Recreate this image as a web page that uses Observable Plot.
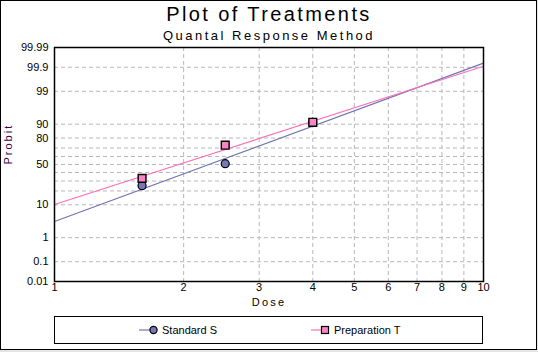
<!DOCTYPE html>
<html>
<head>
<meta charset="utf-8">
<script src="https://cdn.jsdelivr.net/npm/d3@7"></script>
<script src="https://cdn.jsdelivr.net/npm/@observablehq/plot@0.6"></script>
<style>
  html, body { margin: 0; padding: 0; background: #e4e4e4; }
  #wrap { position: relative; width: 538px; height: 352px; overflow: hidden; background: #e4e4e4; }
  #frame { position: absolute; left: 0; top: 0; width: 535px; height: 348px; border: 1px solid #000; border-right-width: 1.5px; border-bottom-width: 1.5px; background: #fff; }
  .t { position: absolute; left: 0; width: 538px; text-align: center; font-family: "Liberation Sans", Arial, sans-serif; color: #000; white-space: nowrap; }
  #title { top: 3px; font-size: 20px; line-height: 22px; letter-spacing: 2.4px; }
  #subtitle { top: 28px; font-size: 13px; line-height: 15px; letter-spacing: 2.5px; }
  #chart { position: absolute; left: 0; top: 40px; }
  #legend { position: absolute; left: 54px; top: 316px; width: 427px; height: 26px; border: 1px solid #000; font-family: "Liberation Sans", Arial, sans-serif; font-size: 11px; }
  .item { position: absolute; top: 0; height: 26px; display: flex; align-items: center; }
  .item svg { display: block; }
  .item span { margin-left: 3px; }
</style>
</head>
<body>
<div id="wrap">
  <div id="frame"></div>
  <div id="title" class="t">Plot of Treatments</div>
  <div id="subtitle" class="t">Quantal Response Method</div>
  <div id="chart"></div>
  <div id="legend"></div>
</div>
<script>
// ---- data (percent responses) ----
const doses = [1.6, 2.5, 4];
const standardS = [25, 51, 91];
const preparationT = [33, 73, 91];
// fitted probit lines, read at dose 1 and dose 10 (percent)
const lineDoses = [1, 10];
const standardLine = [3.5, 99.936];
const preparationLine = [10.2, 99.911];
// axis ticks
const yTickLabels = ["0.01", "0.1", "1", "10", "50", "80", "90", "99", "99.9", "99.99"];
const yTickValues = [0.01, 0.1, 1, 10, 50, 80, 90, 99, 99.9, 99.99];
const yGridValues = [0.1, 1, 10, 20, 30, 40, 50, 60, 70, 80, 90, 99, 99.9];
const xTickValues = [1, 2, 3, 4, 5, 6, 7, 8, 9, 10];
const xGridValues = [2, 3, 4, 5, 6, 7, 8, 9];
const seriesNames = ["Standard S", "Preparation T"];
const seriesColors = ["#7474b4", "#ff70b8"];
const seriesFills = ["#7878b8", "#ff84c4"];

// inverse standard normal CDF (Acklam)
function probit(p) {
  const a = [-3.969683028665376e+01, 2.209460984245205e+02, -2.759285104469687e+02, 1.383577518672690e+02, -3.066479806614716e+01, 2.506628277459239e+00];
  const b = [-5.447609879822406e+01, 1.615858368580409e+02, -1.556989798598866e+02, 6.680131188771972e+01, -1.328068155288572e+01];
  const c = [-7.784894002430293e-03, -3.223964580411365e-01, -2.400758277161838e+00, -2.549732539343734e+00, 4.374664141464968e+00, 2.938163982698783e+00];
  const d = [7.784695709041462e-03, 3.224671290700398e-01, 2.445134137142996e+00, 3.754408661907416e+00];
  const pl = 0.02425, ph = 1 - pl;
  let q, r;
  if (p < pl) {
    q = Math.sqrt(-2 * Math.log(p));
    return (((((c[0]*q+c[1])*q+c[2])*q+c[3])*q+c[4])*q+c[5]) / ((((d[0]*q+d[1])*q+d[2])*q+d[3])*q+1);
  } else if (p <= ph) {
    q = p - 0.5; r = q*q;
    return (((((a[0]*r+a[1])*r+a[2])*r+a[3])*r+a[4])*r+a[5])*q / (((((b[0]*r+b[1])*r+b[2])*r+b[3])*r+b[4])*r+1);
  } else {
    q = Math.sqrt(-2 * Math.log(1 - p));
    return -(((((c[0]*q+c[1])*q+c[2])*q+c[3])*q+c[4])*q+c[5]) / ((((d[0]*q+d[1])*q+d[2])*q+d[3])*q+1);
  }
}
const z = pct => probit(pct / 100);

const pointsS = doses.map((d, i) => ({dose: d, pct: standardS[i]}));
const pointsT = doses.map((d, i) => ({dose: d, pct: preparationT[i]}));
const lineS = lineDoses.map((d, i) => ({dose: d, pct: standardLine[i]}));
const lineT = lineDoses.map((d, i) => ({dose: d, pct: preparationLine[i]}));

const yTicksZ = yTickValues.map(z);
const labelFor = v => {
  let best = 0;
  yTicksZ.forEach((t, i) => { if (Math.abs(t - v) < Math.abs(yTicksZ[best] - v)) best = i; });
  return yTickLabels[best];
};

const grid = {stroke: "#b8b8b8", strokeDasharray: "4,3", strokeWidth: 1, strokeOpacity: 1};

const chart = Plot.plot({
  width: 538,
  height: 272,
  marginLeft: 54,
  marginRight: 55,
  marginTop: 7,
  marginBottom: 31,
  style: {fontFamily: "'Liberation Sans', Arial, sans-serif", fontSize: "11px", color: "#000", background: "transparent", overflow: "visible"},
  x: {type: "log", domain: [1, 10], axis: null},
  y: {type: "linear", domain: [z(0.01), z(99.99)], axis: null},
  marks: [
    Plot.ruleY(yGridValues, {y: z, ...grid}),
    Plot.ruleX(xGridValues, {x: d => d, ...grid}),
    Plot.line(lineS, {x: "dose", y: d => z(d.pct), stroke: seriesColors[0], strokeWidth: 1.2}),
    Plot.line(lineT, {x: "dose", y: d => z(d.pct), stroke: seriesColors[1], strokeWidth: 1.2}),
    Plot.dot(pointsS, {x: "dose", y: d => z(d.pct), r: 4, fill: seriesFills[0], stroke: "#000", strokeWidth: 1.2, symbol: "circle"}),
    Plot.dot(pointsT, {x: "dose", y: d => z(d.pct), r: 4.4, fill: seriesFills[1], stroke: "#000", strokeWidth: 1.4, symbol: "square"}),
    Plot.frame({stroke: "#000", strokeWidth: 1.5}),
    Plot.text(yTicksZ, {y: d => d, text: labelFor, frameAnchor: "left", dx: -6, textAnchor: "end", fill: "#000", fontSize: 11}),
    Plot.text(xTickValues, {x: d => d, text: d => String(d), frameAnchor: "bottom", dy: 9, fill: "#000", fontSize: 11}),
    Plot.text(["Probit"], {frameAnchor: "left", dx: -46, rotate: -90, fill: "#400040", fontSize: 11}),
    Plot.text(["Dose"], {frameAnchor: "bottom", dy: 24, fill: "#000", fontSize: 11})
  ]
});
chart.querySelectorAll("text").forEach(t => {
  if (t.textContent === "Dose") t.setAttribute("letter-spacing", "2.2px");
  if (t.textContent === "Probit") t.setAttribute("letter-spacing", "2px");
});
document.getElementById("chart").appendChild(chart);

// legend
const legend = document.getElementById("legend");
const positions = [84, 256];
seriesNames.forEach((name, i) => {
  const item = document.createElement("div");
  item.className = "item";
  item.style.left = positions[i] + "px";
  const ns = "http://www.w3.org/2000/svg";
  const svg = document.createElementNS(ns, "svg");
  svg.setAttribute("width", 20); svg.setAttribute("height", 12);
  const ln = document.createElementNS(ns, "line");
  ln.setAttribute("x1", 0); ln.setAttribute("x2", 12); ln.setAttribute("y1", 6); ln.setAttribute("y2", 6);
  ln.setAttribute("stroke", seriesColors[i]); ln.setAttribute("stroke-width", 1.2);
  svg.appendChild(ln);
  let m;
  if (i === 0) {
    m = document.createElementNS(ns, "circle");
    m.setAttribute("cx", 14.5); m.setAttribute("cy", 6); m.setAttribute("r", 3.6);
  } else {
    m = document.createElementNS(ns, "rect");
    m.setAttribute("x", 10.5); m.setAttribute("y", 2.5); m.setAttribute("width", 7); m.setAttribute("height", 7);
  }
  m.setAttribute("fill", seriesFills[i]); m.setAttribute("stroke", "#000"); m.setAttribute("stroke-width", 1.2);
  svg.appendChild(m);
  item.appendChild(svg);
  const sp = document.createElement("span");
  sp.textContent = name;
  item.appendChild(sp);
  legend.appendChild(item);
});
</script>
</body>
</html>
